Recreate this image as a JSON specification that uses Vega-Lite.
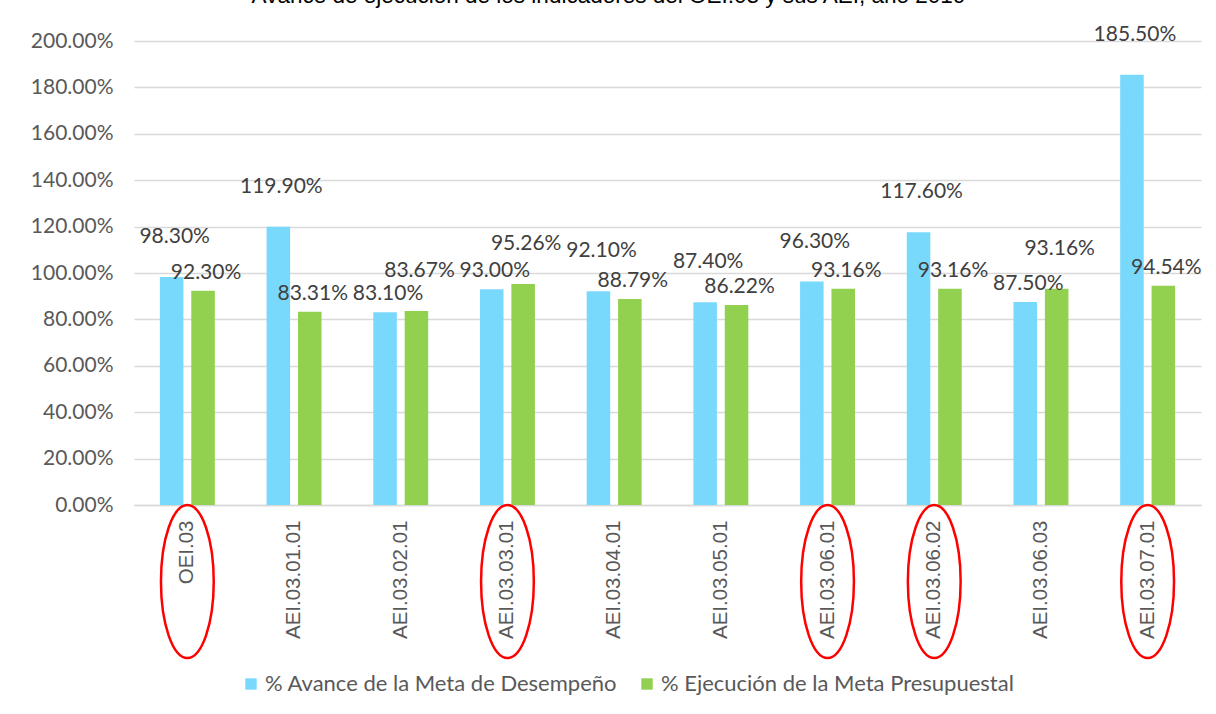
{
  "$schema": "https://vega.github.io/schema/vega-lite/v6.json",
  "autosize": {"type": "none"},
  "width": 1067,
  "height": 464,
  "padding": {"left": 134, "top": 41, "right": 15, "bottom": 209},
  "background": "white",
  "title": {
    "text": "Avance de ejecución de los indicadores del OEI.03 y sus AEI, año 2019",
    "font": "Liberation Sans",
    "fontSize": 22.5,
    "fontWeight": "normal",
    "color": "#000000",
    "anchor": "middle",
    "dx": -59,
    "dy": 6,
    "baseline": "alphabetic",
    "offset": 4
  },
  "datasets": {
    "valores": [
      {"indicador": "OEI.03", "serie": "% Avance de la Meta de Desempeño", "valor": 0.983},
      {"indicador": "OEI.03", "serie": "% Ejecución de la Meta Presupuestal", "valor": 0.923},
      {"indicador": "AEI.03.01.01", "serie": "% Avance de la Meta de Desempeño", "valor": 1.199},
      {"indicador": "AEI.03.01.01", "serie": "% Ejecución de la Meta Presupuestal", "valor": 0.8331},
      {"indicador": "AEI.03.02.01", "serie": "% Avance de la Meta de Desempeño", "valor": 0.831},
      {"indicador": "AEI.03.02.01", "serie": "% Ejecución de la Meta Presupuestal", "valor": 0.8367},
      {"indicador": "AEI.03.03.01", "serie": "% Avance de la Meta de Desempeño", "valor": 0.93},
      {"indicador": "AEI.03.03.01", "serie": "% Ejecución de la Meta Presupuestal", "valor": 0.9526},
      {"indicador": "AEI.03.04.01", "serie": "% Avance de la Meta de Desempeño", "valor": 0.921},
      {"indicador": "AEI.03.04.01", "serie": "% Ejecución de la Meta Presupuestal", "valor": 0.8879},
      {"indicador": "AEI.03.05.01", "serie": "% Avance de la Meta de Desempeño", "valor": 0.874},
      {"indicador": "AEI.03.05.01", "serie": "% Ejecución de la Meta Presupuestal", "valor": 0.8622},
      {"indicador": "AEI.03.06.01", "serie": "% Avance de la Meta de Desempeño", "valor": 0.963},
      {"indicador": "AEI.03.06.01", "serie": "% Ejecución de la Meta Presupuestal", "valor": 0.9316},
      {"indicador": "AEI.03.06.02", "serie": "% Avance de la Meta de Desempeño", "valor": 1.176},
      {"indicador": "AEI.03.06.02", "serie": "% Ejecución de la Meta Presupuestal", "valor": 0.9316},
      {"indicador": "AEI.03.06.03", "serie": "% Avance de la Meta de Desempeño", "valor": 0.875},
      {"indicador": "AEI.03.06.03", "serie": "% Ejecución de la Meta Presupuestal", "valor": 0.9316},
      {"indicador": "AEI.03.07.01", "serie": "% Avance de la Meta de Desempeño", "valor": 1.855},
      {"indicador": "AEI.03.07.01", "serie": "% Ejecución de la Meta Presupuestal", "valor": 0.9454}
    ],
    "resaltados": [
      {"indicador": "OEI.03"},
      {"indicador": "AEI.03.03.01"},
      {"indicador": "AEI.03.06.01"},
      {"indicador": "AEI.03.06.02"},
      {"indicador": "AEI.03.07.01"}
    ]
  },
  "encoding": {
    "x": {
      "field": "indicador",
      "type": "nominal",
      "sort": null,
      "scale": {"paddingInner": 0.485, "paddingOuter": 0.2425},
      "axis": {
        "title": null,
        "labelAngle": -90,
        "labelFont": "Liberation Sans",
        "labelFontSize": 20.5,
        "labelColor": "#595959",
        "labelPadding": 15,
        "ticks": false,
        "domainColor": "#d9d9d9",
        "domainWidth": 1.5,
        "grid": false
      }
    }
  },
  "layer": [
    {
      "data": {"name": "valores"},
      "mark": {"type": "bar"},
      "encoding": {
        "xOffset": {"field": "serie", "type": "nominal", "scale": {"paddingInner": 0.25, "paddingOuter": 0}},
        "y": {
          "field": "valor",
          "type": "quantitative",
          "scale": {"domain": [0, 2], "nice": false, "zero": true},
          "axis": {
            "title": null,
            "format": ".2%",
            "values": [0, 0.2, 0.4, 0.6, 0.8, 1.0, 1.2, 1.4, 1.6, 1.8, 2.0],
            "domain": false,
            "ticks": false,
            "labelFont": "Lato",
            "labelFontSize": 21,
            "labelColor": "#595959",
            "labelPadding": 21,
            "gridColor": "#d9d9d9",
            "gridWidth": 1.5
          }
        },
        "color": {
          "field": "serie",
          "type": "nominal",
          "scale": {"range": ["#79D9FC", "#92D050"]},
          "legend": {
            "title": null,
            "orient": "none",
            "direction": "horizontal",
            "legendX": 106,
            "legendY": 632,
            "symbolType": "square",
            "symbolSize": 130,
            "symbolStrokeWidth": 0,
            "labelFont": "Lato",
            "labelFontSize": 22,
            "labelColor": "#595959",
            "labelLimit": 0,
            "labelOffset": 3,
            "columnPadding": 18
          }
        }
      }
    },
    {
      "data": {"name": "valores"},
      "transform": [
        {"joinaggregate": [{"op": "max", "field": "valor", "as": "maximo"}], "groupby": ["indicador"]},
        {"filter": "datum.valor < datum.maximo"}
      ],
      "mark": {"type": "text", "baseline": "bottom", "dy": -8, "dx": 3, "font": "Lato", "fontSize": 21, "color": "#404040"},
      "encoding": {
        "xOffset": {"field": "serie", "type": "nominal"},
        "y": {"field": "valor", "type": "quantitative"},
        "text": {"field": "valor", "type": "quantitative", "format": ".2%"}
      }
    },
    {
      "data": {"name": "valores"},
      "transform": [
        {"joinaggregate": [{"op": "max", "field": "valor", "as": "maximo"}], "groupby": ["indicador"]},
        {"filter": "datum.valor >= datum.maximo"}
      ],
      "mark": {"type": "text", "baseline": "bottom", "dy": -30, "dx": 3, "font": "Lato", "fontSize": 21, "color": "#404040"},
      "encoding": {
        "xOffset": {"field": "serie", "type": "nominal"},
        "y": {"field": "valor", "type": "quantitative"},
        "text": {"field": "valor", "type": "quantitative", "format": ".2%"}
      }
    },
    {
      "data": {"name": "resaltados"},
      "mark": {
        "type": "point",
        "shape": "M-0.345,0A0.345,1 0 1,0 0.345,0A0.345,1 0 1,0 -0.345,0Z",
        "size": 23400,
        "filled": false,
        "stroke": "#FF0000",
        "strokeWidth": 2.5,
        "opacity": 1
      },
      "encoding": {
        "y": {"datum": -0.33, "type": "quantitative"}
      }
    }
  ],
  "config": {
    "view": {"stroke": null}
  }
}
